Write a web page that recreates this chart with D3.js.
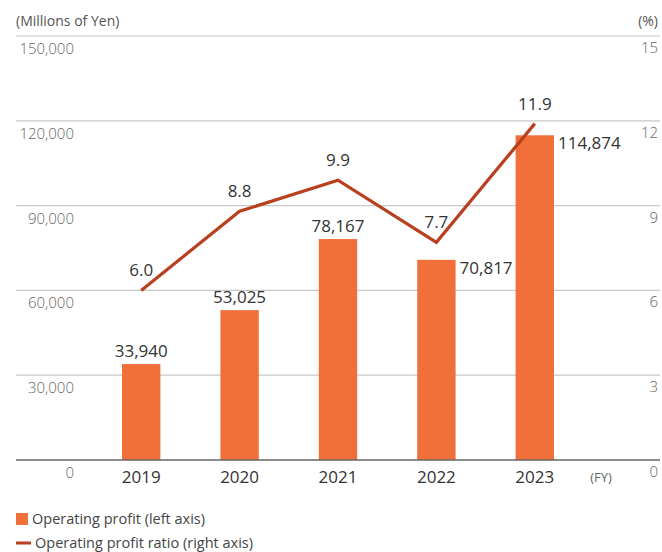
<!DOCTYPE html>
<html>
<head>
<meta charset="utf-8">
<script src="https://cdn.jsdelivr.net/npm/d3@7"></script>
<style>
  html, body { margin: 0; padding: 0; background: #fff; }
  svg { display: block; font-family: "Open Sans", "Noto Sans", sans-serif; }
</style>
</head>
<body>
<svg id="chart" width="662" height="552"></svg>
<script>
// Fiscal years and values
const years = ["2019", "2020", "2021", "2022", "2023"];
const operatingProfit = [33940, 53025, 78167, 70817, 114874];   // millions of yen
const profitRatio = [6.0, 8.8, 9.9, 7.7, 11.9];                  // %
const leftTicks = [0, 30000, 60000, 90000, 120000, 150000];
const rightTicks = [0, 3, 6, 9, 12, 15];
// Which bar labels sit to the right of the bar instead of above it
const sideLabel = [false, false, false, true, true];

const svg = d3.select("#chart");
const plotLeft = 16, plotRight = 660, plotTop = 36, plotBottom = 460;

const x = d3.scaleBand().domain(years).range([92, 584]).paddingInner(0.61).paddingOuter(0.305);
const yL = d3.scaleLinear().domain([0, 150000]).range([plotBottom, plotTop]);
const yR = d3.scaleLinear().domain([0, 15]).range([plotBottom, plotTop]);

const fmt = d3.format(",");

// Gridlines
svg.append("g").selectAll("line").data(leftTicks.slice(1)).join("line")
  .attr("x1", plotLeft).attr("x2", plotRight)
  .attr("y1", d => yL(d)).attr("y2", d => yL(d))
  .attr("stroke", "#c8c8c8").attr("stroke-width", 1.2);

// Left axis labels (below each gridline)
svg.append("g").selectAll("text").data(leftTicks).join("text")
  .attr("x", 74).attr("y", d => yL(d) + 18)
  .attr("text-anchor", "end")
  .attr("font-size", 15).attr("font-weight", 300).attr("fill", "#666")
  .text(d => fmt(d));

// Right axis labels
svg.append("g").selectAll("text").data(rightTicks).join("text")
  .attr("x", 658).attr("y", d => yR(d) + 17)
  .attr("text-anchor", "end")
  .attr("font-size", 15).attr("font-weight", 300).attr("fill", "#666")
  .text(d => d);

// Unit captions
svg.append("text").attr("x", 16).attr("y", 26)
  .attr("font-size", 14).attr("fill", "#555").text("(Millions of Yen)");
svg.append("text").attr("x", 658).attr("y", 26).attr("text-anchor", "end")
  .attr("font-size", 14).attr("fill", "#555").text("(%)");

// Bars
svg.append("g").selectAll("rect").data(operatingProfit).join("rect")
  .attr("x", (d, i) => x(years[i]))
  .attr("y", d => yL(d))
  .attr("width", x.bandwidth())
  .attr("height", d => plotBottom - yL(d))
  .attr("fill", "#f1703a");

// Baseline
svg.append("line").attr("x1", plotLeft).attr("x2", plotRight)
  .attr("y1", plotBottom).attr("y2", plotBottom)
  .attr("stroke", "#666").attr("stroke-width", 1.5);

// Year labels
svg.append("g").selectAll("text").data(years).join("text")
  .attr("x", d => x(d) + x.bandwidth() / 2).attr("y", 483)
  .attr("text-anchor", "middle")
  .attr("font-size", 17).attr("fill", "#333")
  .text(d => d);
svg.append("text").attr("x", 601).attr("y", 482).attr("text-anchor", "middle")
  .attr("font-size", 13).attr("fill", "#666").text("(FY)");

// Bar value labels
svg.append("g").selectAll("text").data(operatingProfit).join("text")
  .attr("x", (d, i) => sideLabel[i] ? x(years[i]) + x.bandwidth() + 4 : x(years[i]) + x.bandwidth() / 2)
  .attr("y", (d, i) => sideLabel[i] ? yL(d) + 14 : yL(d) - 7)
  .attr("text-anchor", (d, i) => sideLabel[i] ? "start" : "middle")
  .attr("font-size", 17).attr("fill", "#333")
  .text(d => fmt(d));

// Ratio line
const line = d3.line()
  .x((d, i) => x(years[i]) + x.bandwidth() / 2)
  .y(d => yR(d));
svg.append("path").datum(profitRatio)
  .attr("d", line)
  .attr("fill", "none").attr("stroke", "#b8401e").attr("stroke-width", 3.2)
  .attr("stroke-linejoin", "miter");

// Ratio labels
svg.append("g").selectAll("text").data(profitRatio).join("text")
  .attr("x", (d, i) => x(years[i]) + x.bandwidth() / 2)
  .attr("y", d => yR(d) - 14)
  .attr("text-anchor", "middle")
  .attr("font-size", 17).attr("fill", "#333")
  .text(d => d.toFixed(1));

// Legend
const legend = svg.append("g");
legend.append("rect").attr("x", 16).attr("y", 513).attr("width", 12).attr("height", 12).attr("fill", "#f1703a");
legend.append("text").attr("x", 32).attr("y", 524)
  .attr("font-size", 14.5).attr("fill", "#444").text("Operating profit (left axis)");
legend.append("line").attr("x1", 16).attr("x2", 31).attr("y1", 543).attr("y2", 543)
  .attr("stroke", "#b8401e").attr("stroke-width", 3);
legend.append("text").attr("x", 35).attr("y", 548)
  .attr("font-size", 14.5).attr("fill", "#444").text("Operating profit ratio (right axis)");
</script>
</body>
</html>
